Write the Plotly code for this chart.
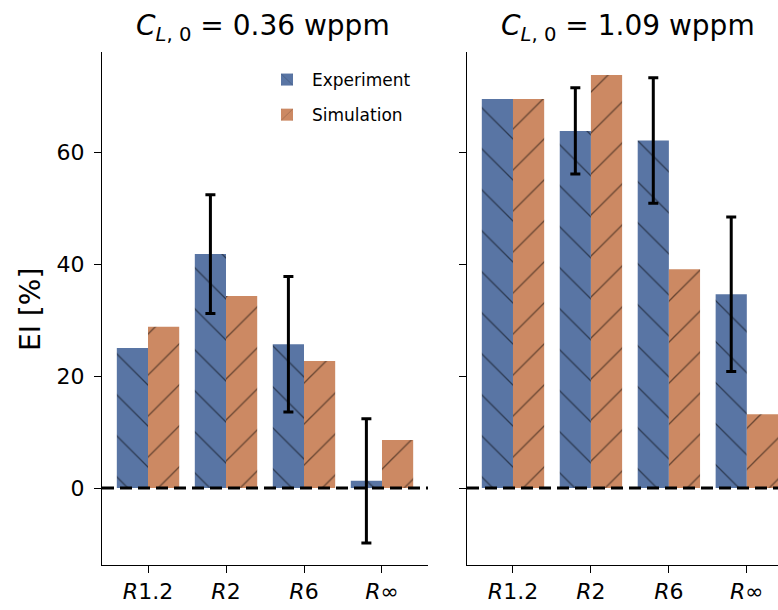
import plotly.graph_objects as go
import math

categories = ["R1.2", "R2", "R6", "R∞"]
tick_labels = ["<i>R</i>1.2", "<i>R</i>2", "<i>R</i>6", "<i>R</i>∞"]

panel_titles = ["<i>C</i><sub><i>L</i>, 0</sub> = 0.36 wppm",
                "<i>C</i><sub><i>L</i>, 0</sub> = 1.09 wppm"]

exp_036 = [25.0, 41.8, 25.7, 1.3]
exp_036_err = [math.nan, 10.6, 12.1, 11.1]
sim_036 = [28.8, 34.3, 22.7, 8.6]

exp_109 = [69.5, 63.8, 62.1, 34.6]
exp_109_err = [math.nan, 7.7, 11.2, 13.8]
sim_109 = [69.5, 73.8, 39.1, 13.2]

C_EXP = "#5975a4"
C_SIM = "#cc8963"
FONT = "DejaVu Sans"

W, H = 778, 610
def px_x(p): return p / W
def px_y(p): return 1 - p / H

fig = go.Figure()

panels = [(exp_036, exp_036_err, sim_036, "x", "y"),
          (exp_109, exp_109_err, sim_109, "x2", "y2")]

exp_marker = dict(color=C_EXP, line=dict(width=0),
                  pattern=dict(shape="\\", fgcolor="black", size=29, solidity=0.045))
sim_marker = dict(color=C_SIM, line=dict(width=0),
                  pattern=dict(shape="/", fgcolor="black", size=29, solidity=0.045))

for i, (e, ee, s, xa, ya) in enumerate(panels):
    # Experiment bars: split into those with and without error bars (same offset group)
    with_err = [k for k in range(len(categories)) if not math.isnan(ee[k])]
    no_err = [k for k in range(len(categories)) if math.isnan(ee[k])]
    fig.add_trace(go.Bar(
        x=[categories[k] for k in with_err], y=[e[k] for k in with_err],
        name="Experiment", xaxis=xa, yaxis=ya, marker=exp_marker,
        error_y=dict(type="data", array=[ee[k] for k in with_err], visible=True,
                     color="black", thickness=3, width=5),
        offsetgroup="exp", showlegend=(i == 0), legendgroup="exp", legendrank=1))
    if no_err:
        fig.add_trace(go.Bar(
            x=[categories[k] for k in no_err], y=[e[k] for k in no_err],
            name="Experiment", xaxis=xa, yaxis=ya, marker=exp_marker,
            offsetgroup="exp", showlegend=False, legendgroup="exp"))
    fig.add_trace(go.Bar(
        x=categories, y=s, name="Simulation", xaxis=xa, yaxis=ya, marker=sim_marker,
        offsetgroup="sim", showlegend=(i == 0), legendgroup="sim", legendrank=2))

yrange = [-13.75, 77.9]
ydom = [px_y(565), px_y(52)]

common_x = dict(type="category", showline=True, linecolor="black", linewidth=1,
                ticks="outside", ticklen=7, tickwidth=1, tickcolor="black",
                tickvals=categories, ticktext=tick_labels, showgrid=False,
                zeroline=False, tickfont=dict(family=FONT, size=22, color="black"),
                categoryorder="array", categoryarray=categories, fixedrange=True)
common_y = dict(range=yrange, domain=ydom, showline=True, linecolor="black", linewidth=1,
                ticks="outside", ticklen=7, tickwidth=1, tickcolor="black",
                tickvals=[0, 20, 40, 60], showgrid=False, zeroline=False,
                tickfont=dict(family=FONT, size=22, color="black"), fixedrange=True)

fig.update_layout(
    width=W, height=H, margin=dict(l=0, r=0, t=0, b=0),
    paper_bgcolor="white", plot_bgcolor="white",
    barmode="group", bargap=0.2, bargroupgap=0,
    xaxis=dict(common_x, domain=[px_x(102), px_x(428)], range=[-0.59, 3.59], anchor="y"),
    xaxis2=dict(common_x, domain=[px_x(467), 1.0], range=[-0.59, 3.4], anchor="y2"),
    yaxis=dict(common_y, anchor="x", ticklabelstandoff=5),
    yaxis2=dict(common_y, anchor="x2", showticklabels=False),
    legend=dict(x=px_x(262), y=px_y(62), xanchor="left", yanchor="top",
                font=dict(family=FONT, size=17, color="black"),
                bgcolor="rgba(255,255,255,0)", itemwidth=40, tracegroupgap=10),
    showlegend=True,
)

# zero dashed lines
for xr, yr in [("x domain", "y"), ("x2 domain", "y2")]:
    fig.add_shape(type="line", xref=xr, yref=yr, x0=0, x1=1, y0=0, y1=0,
                  line=dict(color="black", width=3, dash="12px,6px"), layer="above")

# titles
for t, cx in zip(panel_titles, [263, 628]):
    fig.add_annotation(text=t, xref="paper", yref="paper", x=px_x(cx), y=px_y(28),
                       xanchor="center", yanchor="middle", showarrow=False,
                       font=dict(family=FONT, size=28, color="black"))

fig.add_annotation(text="EI [%]", xref="paper", yref="paper", x=px_x(30), y=px_y(310),
                   xanchor="center", yanchor="middle", textangle=-90, showarrow=False,
                   font=dict(family=FONT, size=28, color="black"))

fig.write_html("out.html")
